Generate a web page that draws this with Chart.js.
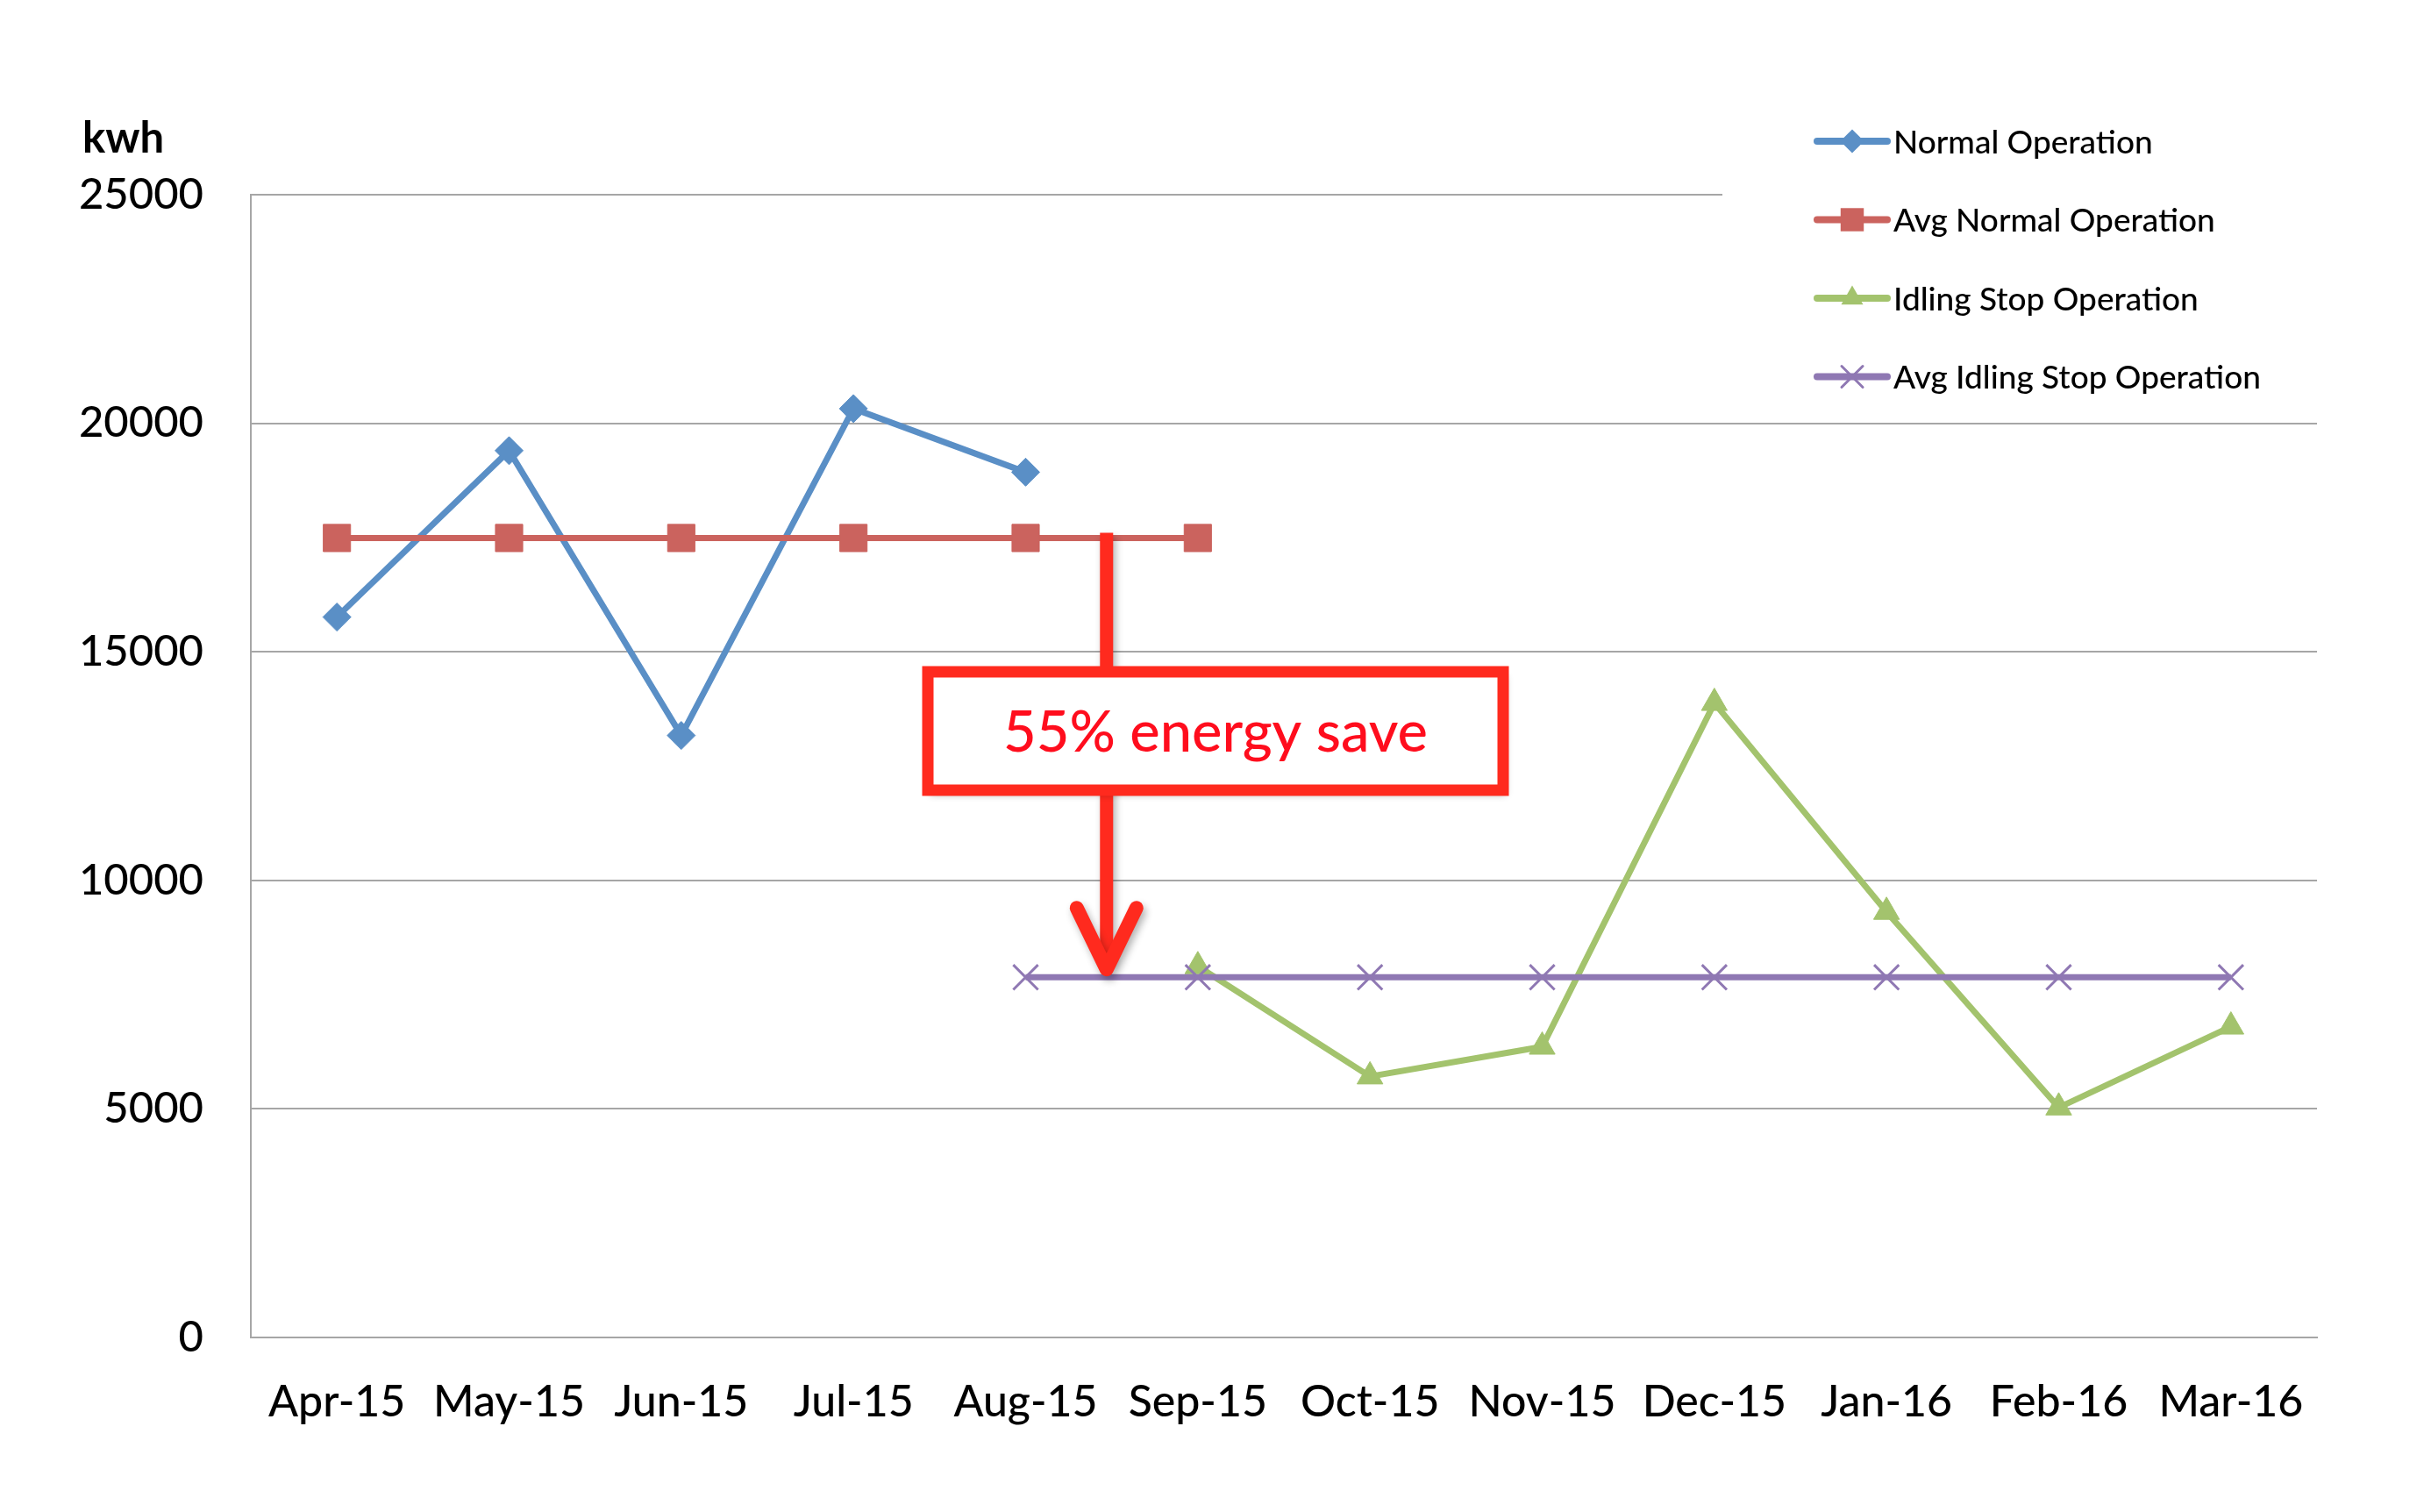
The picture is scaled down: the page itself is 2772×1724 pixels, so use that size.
<!DOCTYPE html>
<html lang="en">
<head>
<meta charset="UTF-8">
<title>kwh - Normal vs Idling Stop Operation</title>
<script src="https://cdn.jsdelivr.net/npm/chart.js"></script>
<style>
  html, body { margin: 0; padding: 0; background: #ffffff; }
  #wrap { width: 2772px; height: 1724px; }
</style>
</head>
<body>
<div id="wrap"><canvas id="chart" width="2772" height="1724"></canvas></div>
<script>
// categories and series
var months = ["Apr-15", "May-15", "Jun-15", "Jul-15", "Aug-15", "Sep-15",
              "Oct-15", "Nov-15", "Dec-15", "Jan-16", "Feb-16", "Mar-16"];
var normalOp    = [15760, 19400, 13170, 20320, 18930, null, null, null, null, null, null, null];
var avgNormalOp = [17490, 17490, 17490, 17490, 17490, 17490, null, null, null, null, null, null];
var idlingOp    = [null, null, null, null, null, 8120, 5710, 6360, 13880, 9310, 5030, 6800];
var avgIdlingOp = [null, null, null, null, 7880, 7880, 7880, 7880, 7880, 7880, 7880, 7880];
var yTicks = [0, 5000, 10000, 15000, 20000, 25000];
var unitLabel = "kwh";
var noteText = "55% energy save";

var FONT = "Lato, 'Open Sans', sans-serif";
var GRID = "#a6a6a6";
var RED = "#ff2a1e";

function drawMarker(ctx, style, x, y, r, color) {
    ctx.save();
    ctx.fillStyle = color;
    ctx.strokeStyle = color;
    ctx.beginPath();
    if (style === "rectRot") {
        ctx.moveTo(x - r, y); ctx.lineTo(x, y - r); ctx.lineTo(x + r, y); ctx.lineTo(x, y + r);
        ctx.closePath(); ctx.fill();
    } else if (style === "rect") {
        var s = r * Math.SQRT1_2;
        ctx.rect(x - s, y - s, 2 * s, 2 * s); ctx.fill();
    } else if (style === "triangle") {
        for (var i = 0; i < 3; i++) {
            var a = i * 2 * Math.PI / 3;
            var px = x + Math.sin(a) * r, py = y - Math.cos(a) * r;
            if (i === 0) ctx.moveTo(px, py); else ctx.lineTo(px, py);
        }
        ctx.closePath(); ctx.fill();
    } else if (style === "crossRot") {
        var o = r * Math.SQRT1_2;
        ctx.lineWidth = 3;
        ctx.moveTo(x - o, y - o); ctx.lineTo(x + o, y + o);
        ctx.moveTo(x + o, y - o); ctx.lineTo(x - o, y + o);
        ctx.stroke();
    }
    ctx.restore();
}

// legend on the right, on a white box that hides the top gridline
var legendBox = {
    id: "legendBox",
    afterDraw: function (chart) {
        var ctx = chart.ctx;
        ctx.save();
        ctx.fillStyle = "#ffffff";
        ctx.fillRect(1964, 100, 808, 370);
        var sets = chart.data.datasets.slice().sort(function (a, b) { return a.legendIndex - b.legendIndex; });
        sets.forEach(function (ds, i) {
            var yy = 161 + i * 89.5;
            ctx.strokeStyle = ds.borderColor;
            ctx.lineWidth = 8;
            ctx.lineCap = "round";
            ctx.beginPath(); ctx.moveTo(2072, yy); ctx.lineTo(2152, yy); ctx.stroke();
            drawMarker(ctx, ds.pointStyle, 2112, yy, ds.pointRadius * 0.85, ds.borderColor);
            ctx.fillStyle = "#000000";
            ctx.font = "500 37px " + FONT;
            ctx.textAlign = "left";
            ctx.textBaseline = "middle";
            ctx.fillText(ds.label, 2159, yy + 2);
        });
        // unit label above the value axis
        ctx.font = "bold 49px " + FONT;
        ctx.textAlign = "left";
        ctx.textBaseline = "middle";
        ctx.fillText(unitLabel, 94, 158);
        ctx.restore();
    }
};

// red callout with the arrow from the normal average down to the idling average
var savingNote = {
    id: "savingNote",
    afterDatasetsDraw: function (chart) {
        var ctx = chart.ctx, xs = chart.scales.x, ys = chart.scales.y;
        var ax = xs.getPixelForValue(4.47);
        var yTop = ys.getPixelForValue(avgNormalOp[0]) - 6;
        var yTip = ys.getPixelForValue(avgIdlingOp[4]) - 9;
        ctx.save();
        ctx.shadowColor = "rgba(0,0,0,0.3)";
        ctx.shadowBlur = 8;
        ctx.shadowOffsetX = 3;
        ctx.shadowOffsetY = 5;
        ctx.strokeStyle = RED;
        ctx.lineWidth = 15;
        ctx.lineCap = "butt";
        ctx.beginPath(); ctx.moveTo(ax, yTop); ctx.lineTo(ax, yTip - 10); ctx.stroke();
        ctx.lineCap = "round";
        ctx.lineJoin = "round";
        ctx.lineWidth = 16;
        ctx.beginPath();
        ctx.moveTo(ax - 34, yTip - 70); ctx.lineTo(ax, yTip); ctx.lineTo(ax + 34, yTip - 70);
        ctx.stroke();
        // box
        ctx.fillStyle = "#ffffff";
        ctx.lineWidth = 13;
        ctx.lineJoin = "miter";
        ctx.beginPath(); ctx.rect(1058, 766, 656, 135);
        ctx.fill();
        ctx.shadowColor = "rgba(0,0,0,0)";
        ctx.stroke();
        ctx.fillStyle = "#ff0d1d";
        ctx.font = "500 65px " + FONT;
        ctx.textAlign = "center";
        ctx.textBaseline = "middle";
        ctx.fillText(noteText, 1386, 836);
        ctx.restore();
    }
};

new Chart(document.getElementById("chart").getContext("2d"), {
    type: "line",
    data: {
        labels: months,
        datasets: [
            {
                label: "Normal Operation", legendIndex: 0, order: 3,
                data: normalOp,
                borderColor: "#5a8fc6", backgroundColor: "#5a8fc6",
                borderWidth: 7, pointStyle: "rectRot", pointRadius: 16,
                pointBorderWidth: 1, pointBorderColor: "#5a8fc6", pointBackgroundColor: "#5a8fc6"
            },
            {
                label: "Avg Normal Operation", legendIndex: 1, order: 2,
                data: avgNormalOp,
                borderColor: "#cb635e", backgroundColor: "#cb635e",
                borderWidth: 7, pointStyle: "rect", pointRadius: 22,
                pointBorderWidth: 1, pointBorderColor: "#cb635e", pointBackgroundColor: "#cb635e"
            },
            {
                label: "Idling Stop Operation", legendIndex: 2, order: 1,
                data: idlingOp,
                borderColor: "#a3c36d", backgroundColor: "#a3c36d",
                borderWidth: 7, pointStyle: "triangle", pointRadius: 17,
                pointBorderWidth: 1, pointBorderColor: "#a3c36d", pointBackgroundColor: "#a3c36d"
            },
            {
                label: "Avg Idling Stop Operation", legendIndex: 3, order: 0,
                data: avgIdlingOp,
                borderColor: "#8f78b3", backgroundColor: "#8f78b3",
                borderWidth: 7, pointStyle: "crossRot", pointRadius: 20,
                pointBorderWidth: 3, pointBorderColor: "#8f78b3", pointBackgroundColor: "#8f78b3"
            }
        ]
    },
    options: {
        responsive: false,
        devicePixelRatio: 1,
        animation: false,
        events: [],
        spanGaps: false,
        layout: { padding: { top: 222, right: 130, left: 0, bottom: 0 } },
        plugins: {
            legend: { display: false },
            title: { display: false },
            tooltip: { enabled: false }
        },
        scales: {
            x: {
                offset: true,
                grid: { display: false, drawTicks: false },
                border: { display: true, color: GRID, width: 2 },
                ticks: { color: "#000", padding: 44, maxRotation: 0, autoSkip: false,
                         font: { family: FONT, size: 50, weight: "500" } },
                afterFit: function (s) { s.height = 199; }
            },
            y: {
                min: 0, max: 25000,
                afterBuildTicks: function (s) { s.ticks = yTicks.map(function (v) { return { value: v }; }); },
                grid: { color: GRID, lineWidth: 2, drawTicks: false },
                border: { display: true, color: GRID, width: 2 },
                ticks: { color: "#000", padding: 54, font: { family: FONT, size: 49, weight: "500" },
                         callback: function (v) { return String(v); } },
                afterFit: function (s) { s.width = 286; }
            }
        }
    },
    plugins: [savingNote, legendBox]
});
</script>
</body>
</html>
